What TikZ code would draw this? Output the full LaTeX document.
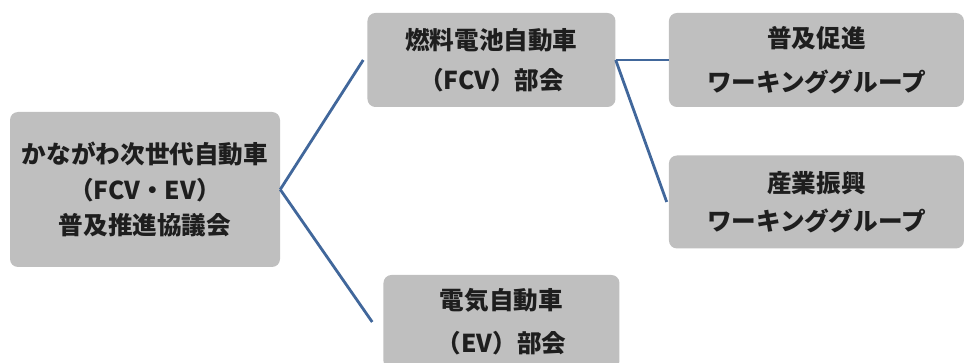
\documentclass[tikz,border=0pt]{standalone}
\usepackage{fontspec}
\setmainfont{Noto Sans CJK JP}
\usetikzlibrary{positioning}
\definecolor{mgray}{HTML}{BFBFBF}
\definecolor{mblue}{HTML}{41679B}
\definecolor{mtext}{HTML}{1E1E1E}
\tikzstyle{panel} = [rectangle, rounded corners=0.24cm, fill=mgray, text=mtext, align=center, inner sep=0pt, font=\bfseries\fontsize{21}{30}\selectfont]
\tikzstyle{link} = [line width=2.4pt, mblue]

\begin{document}
\begin{tikzpicture}[node distance=1cm]
  \clip (0,0) rectangle (28.92,-10.89);
  \node (council) [panel, minimum width=8.1cm, minimum height=4.65cm] at (4.35,-5.685) {かながわ次世代自動車\\（FCV・EV）\\普及推進協議会};
  \node (fcv) [panel, minimum width=7.44cm, minimum height=2.82cm, right=2.61cm of council, yshift=3.885cm] {燃料電池自動車\\[4pt]（FCV）部会};
  \node (ev) [panel, minimum width=7.08cm, minimum height=2.82cm, right=3.09cm of council, yshift=-3.975cm] {電気自動車\\[7pt]（EV）部会};
  \node (promo) [panel, minimum width=8.85cm, minimum height=2.82cm, right=1.59cm of fcv] {普及促進\\[7pt]ワーキンググループ};
  \node (industry) [panel, minimum width=8.85cm, minimum height=2.79cm, below=1.44cm of promo] {産業振興\\[2pt]ワーキンググループ};
  \draw [link] (council.east) -- ([xshift=-0.12cm]fcv.west);
  \draw [link] (council.east) -- ([xshift=-0.33cm]ev.west);
  \draw [link] (fcv.east) -- (promo.west);
  \draw [link] (fcv.east) -- ([xshift=-0.06cm]industry.west);
\end{tikzpicture}
\end{document}
